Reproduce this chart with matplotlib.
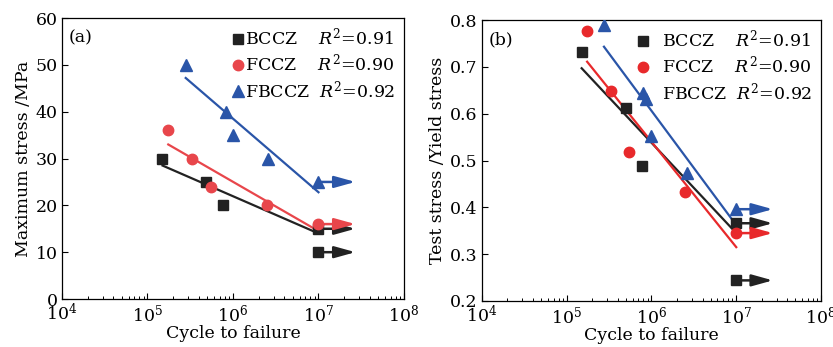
import numpy as np
import matplotlib
matplotlib.use("Agg")
import matplotlib.pyplot as plt
from matplotlib.ticker import LogLocator, NullFormatter

plt.rcParams['font.family'] = ['DejaVu Serif']
plt.rcParams['mathtext.fontset'] = 'dejavuserif'
plt.rcParams['font.size'] = 12.5

series = ["BCCZ", "FCCZ", "FBCCZ"]
r2 = ["0.91", "0.90", "0.92"]
markers = ["s", "o", "^"]

# panel (a): maximum stress (MPa)
a_colors = ["#222222", "#e8464b", "#2a55a8"]
a_x = [[1.48e5, 4.8e5, 7.6e5], [1.74e5, 3.3e5, 5.5e5, 2.5e6], [2.8e5, 8.3e5, 1.0e6, 2.6e6]]
a_y = [[30, 25, 20], [36, 30, 24, 20], [50, 40, 35, 30]]
a_run_x = [[1e7, 1e7], [1e7], [1e7]]
a_run_y = [[15, 10], [16], [25]]
a_fit_x = [[1.5e5, 1e7], [1.75e5, 1e7], [2.8e5, 1e7]]
a_fit_y = [[28.5, 14.0], [33.0, 14.5], [47.2, 22.8]]

# panel (b): test stress / yield stress
b_colors = ["#222222", "#e8292b", "#2a55a8"]
b_x = [[1.5e5, 5.0e5, 7.7e5], [1.74e5, 3.3e5, 5.5e5, 2.5e6], [2.75e5, 8.5e5, 1.0e6, 2.6e6]]
b_y = [[0.732, 0.612, 0.488], [0.777, 0.649, 0.519, 0.432], [0.790, 0.631, 0.553, 0.473]]
b_run_x = [[1e7, 1e7], [1e7], [1e7]]
b_run_y = [[0.366, 0.244], [0.345], [0.396]]
b_fit_x = [[1.5e5, 1e7], [1.74e5, 1e7], [2.75e5, 1e7]]
b_fit_y = [[0.697, 0.345], [0.711, 0.315], [0.743, 0.362]]

arrow_end = 2.7e7
msizes = [7, 7.5, 8]

fig = plt.figure(figsize=(8.33, 3.47), dpi=100)
ax_a = fig.add_axes([0.0744, 0.1383, 0.4106, 0.8097])
ax_b = fig.add_axes([0.5786, 0.1326, 0.4070, 0.8097])


def draw(ax, colors, xs, ys, rx, ry, fx, fy, ylim, yticks, ylabel, tag, leg_pad):
    for i, name in enumerate(series):
        c = colors[i]
        ax.plot(fx[i], fy[i], color=c, lw=1.6, zorder=2)
        for xv, yv in zip(rx[i], ry[i]):
            ax.annotate("", xy=(arrow_end, yv), xytext=(xv, yv),
                        arrowprops=dict(arrowstyle="-|>,head_length=0.9,head_width=0.25",
                                        color=c, lw=1.8, mutation_scale=14,
                                        shrinkA=0, shrinkB=0), zorder=3)
        ax.plot(xs[i] + rx[i], ys[i] + ry[i], linestyle="none", marker=markers[i],
                color=c, ms=msizes[i], zorder=4,
                label=f"{name}" + ("  " if name == "FBCCZ" else "    ") + f"$R^2$=" + r2[i])
    ax.set_xscale("log")
    ax.set_xlim(1e4, 1e8)
    ax.set_ylim(*ylim)
    ax.set_yticks(yticks)
    ax.xaxis.set_major_locator(LogLocator(base=10, numticks=10))
    ax.xaxis.set_minor_locator(LogLocator(base=10, subs=np.arange(2, 10), numticks=10))
    ax.xaxis.set_minor_formatter(NullFormatter())
    ax.tick_params(direction="in", which="major", length=4, width=0.8, pad=3)
    ax.tick_params(direction="in", which="minor", length=2.5, width=0.7)
    ax.set_xlabel("Cycle to failure", labelpad=0)
    ax.set_ylabel(ylabel, labelpad=3)
    ax.text(0.02, 0.96, tag, transform=ax.transAxes, ha="left", va="top")
    ax.legend(loc="upper right", frameon=False, handletextpad=leg_pad, handlelength=0.6,
              labelspacing=0.25, borderaxespad=0.2, borderpad=0.3)
    for s in ax.spines.values():
        s.set_linewidth(0.9)


draw(ax_a, a_colors, a_x, a_y, a_run_x, a_run_y, a_fit_x, a_fit_y,
     (0, 60), np.arange(0, 61, 10), "Maximum stress /MPa", "(a)", 0.1)
draw(ax_b, b_colors, b_x, b_y, b_run_x, b_run_y, b_fit_x, b_fit_y,
     (0.2, 0.8), np.round(np.arange(0.2, 0.81, 0.1), 1), "Test stress /Yield stress", "(b)", 0.8)

fig.savefig("out.png", dpi=100)
